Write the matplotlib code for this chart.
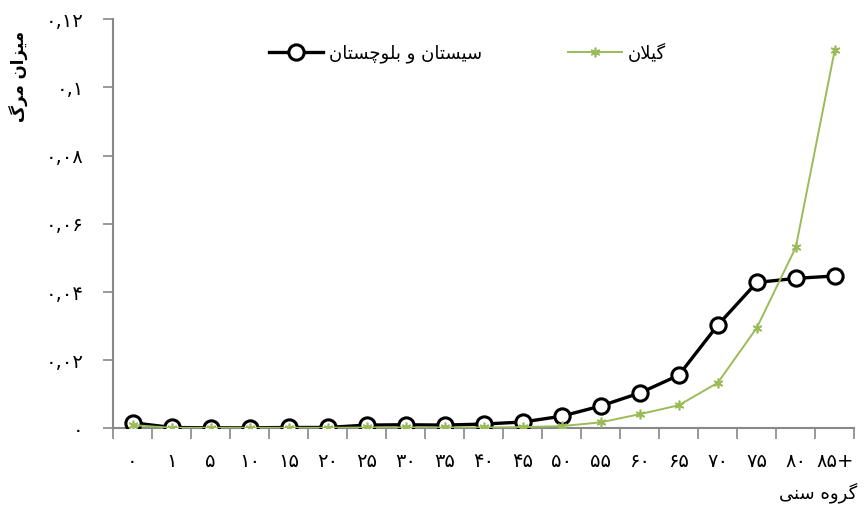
import matplotlib
matplotlib.use("Agg")
import matplotlib.pyplot as plt
import numpy as np

plt.rcParams['font.family'] = ['DejaVu Sans']

# Persian labels written in visual order with Arabic presentation forms
categories = ["\u06f0", "\u06f1", "\u06f5", "\u06f1\u06f0", "\u06f1\u06f5", "\u06f2\u06f0",
              "\u06f2\u06f5", "\u06f3\u06f0", "\u06f3\u06f5", "\u06f4\u06f0", "\u06f4\u06f5",
              "\u06f5\u06f0", "\u06f5\u06f5", "\u06f6\u06f0", "\u06f6\u06f5", "\u06f7\u06f0",
              "\u06f7\u06f5", "\u06f8\u06f0", "\u06f8\u06f5+"]

sistan = [0.0017, 0.0003, 0.0002, 0.0002, 0.0003, 0.0003, 0.0010, 0.0011, 0.0010, 0.0013,
          0.0019, 0.0036, 0.0066, 0.0104, 0.0156, 0.0303, 0.0428, 0.0440, 0.0447]
gilan = [0.0010, 0.0002, 0.0002, 0.0002, 0.0002, 0.0002, 0.0003, 0.0003, 0.0003, 0.0003,
         0.0004, 0.0007, 0.0018, 0.0042, 0.0068, 0.0134, 0.0295, 0.0531, 0.1110]

yticks = [0, 0.02, 0.04, 0.06, 0.08, 0.10, 0.12]
ytick_labels = ["\u06f0", "\u06f0,\u06f0\u06f2", "\u06f0,\u06f0\u06f4", "\u06f0,\u06f0\u06f6",
                "\u06f0,\u06f0\u06f8", "\u06f0,\u06f1", "\u06f0,\u06f1\u06f2"]

label_sistan = ("\uFEE5\uFE8E\uFE98\uFEB4\uFB7C\uFEEE\uFEE0\uFE91" + " \uFEED " +
                "\uFEE5\uFE8E\uFE98\uFEB4\uFBFF\uFEB3")
label_gilan = "\uFEE5\uFEFC\uFBFF\uFB94"
ylabel = "\uFB92\uFEAE\uFEE3 \uFEE5\uFE8D\uFEB0\uFBFF\uFEE3"
xlabel = "\uFBFD\uFEE8\uFEB3 \uFEE9\uFEED\uFEAE\uFB94"

fig = plt.figure(figsize=(8.66, 5.08), dpi=100)
ax = fig.add_axes([0.1305, 0.1565, 0.856, 0.806])

x = np.arange(len(categories))
ax.plot(x, sistan, color='black', lw=2.4, marker='o', ms=11, mfc='white', mec='black',
        mew=2.2, label=label_sistan, zorder=3)
ax.plot(x, gilan, color='#9BBB59', lw=1.4, marker=(6, 2, 0), ms=7, mec='#9BBB59',
        mew=1.2, label=label_gilan, zorder=4)

ax.set_xlim(-0.5, len(categories) - 0.5)
ax.set_ylim(0, 0.12)
ax.set_yticks(yticks)
ax.set_yticklabels(ytick_labels, fontsize=14)
ax.set_xticks(x)
ax.set_xticklabels(categories, fontsize=14)
ax.set_xticks(np.arange(-0.5, len(categories) + 0.5, 1), minor=True)
ax.tick_params(axis='x', which='major', length=0, pad=17)
ax.tick_params(axis='x', which='minor', length=8, width=1.2, color='#888888', direction='out')
ax.tick_params(axis='y', length=7, width=1.2, color='#888888', direction='out', pad=14)

for s in ['top', 'right']:
    ax.spines[s].set_visible(False)
for s in ['left', 'bottom']:
    ax.spines[s].set_color('#888888')
    ax.spines[s].set_linewidth(1.5)

fig.text(0.022, 0.85, ylabel, rotation=90, fontsize=12, fontweight='bold',
         ha='center', va='center')
fig.text(0.99, 0.03, xlabel, fontsize=13, ha='right', va='center')

ax.legend(loc='upper center', bbox_to_anchor=(0.478, 0.98), ncol=2, frameon=False,
          fontsize=13, handlelength=3.0, handletextpad=0.3, columnspacing=4.75)

fig.savefig("out.png", dpi=100)
